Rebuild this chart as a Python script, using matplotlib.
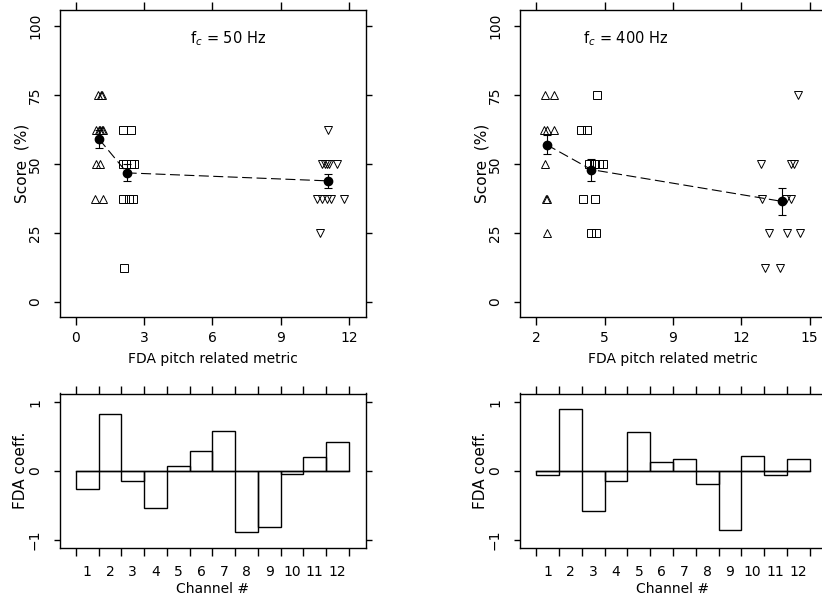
import matplotlib
matplotlib.use("Agg")
import matplotlib.pyplot as plt
import numpy as np

plt.rcParams['font.family'] = ['DejaVu Sans']
plt.rcParams['font.size'] = 10

# ---------------- data ----------------
titles = ["50", "400"]

# fc = 50 Hz panel
tri50_x = [0.97, 1.10, 1.16, 0.88, 1.00, 1.05, 1.14, 1.19, 0.90, 1.06, 0.84, 1.19]
tri50_y = [75, 75, 75, 62.5, 62.5, 62.5, 62.5, 62.5, 50, 50, 37.5, 37.5]
sq50_x = [2.09, 2.40, 2.07, 2.20, 2.42, 2.55, 2.07, 2.33, 2.50, 2.11]
sq50_y = [62.5, 62.5, 50, 50, 50, 50, 37.5, 37.5, 37.5, 12.5]
dt50_x = [11.09, 10.80, 10.95, 11.05, 11.13, 11.46, 10.60, 10.80, 11.05, 11.20, 11.78, 10.72]
dt50_y = [62.5, 50, 50, 50, 50, 50, 37.5, 37.5, 37.5, 37.5, 37.5, 25]
mean50_x = [1.02, 2.25, 11.10]
mean50_y = [59.0, 46.8, 43.9]
se50 = [3.2, 3.1, 2.65]

# fc = 400 Hz panel
tri400_x = [3.36, 3.77, 3.34, 3.47, 3.77, 3.37, 3.40, 3.47, 3.47]
tri400_y = [75, 75, 62.5, 62.5, 62.5, 50, 37.5, 37.5, 25]
sq400_x = [5.68, 4.94, 5.22, 5.33, 5.53, 5.73, 5.92, 5.06, 5.57, 5.38, 5.60]
sq400_y = [75, 62.5, 62.5, 50, 50, 50, 50, 37.5, 37.5, 25, 25]
dt400_x = [14.48, 12.85, 14.17, 14.31, 12.92, 13.96, 14.17, 13.23, 13.99, 14.59, 13.03, 13.69]
dt400_y = [75, 50, 50, 50, 37.5, 37.5, 37.5, 25, 25, 25, 12.5, 12.5]
mean400_x = [3.45, 5.41, 13.77]
mean400_y = [57.0, 48.0, 36.5]
se400 = [3.5, 4.0, 5.0]

# FDA coefficients per channel
channels = list(range(1, 13))
coef50 = [-0.265, 0.824, -0.149, -0.535, 0.067, 0.284, 0.583, -0.886, -0.814, -0.043, 0.207, 0.419]
coef400 = [-0.06, 0.899, -0.58, -0.145, 0.56, 0.126, 0.174, -0.184, -0.86, 0.222, -0.053, 0.174]

score_ticks = [0, 25, 50, 75, 100]
x50_ticks = [0, 3, 6, 9, 12]
x50_labels = ["0", "3", "6", "9", "12"]
x400_ticks = [3, 6, 9, 12, 15]
x400_labels = ["2", "5", "9", "12", "15"]
coef_ticks = [-1, 0, 1]
coef_labels = ["\u22121", "0", "1"]

# ---------------- figure ----------------
W, H = 822, 601
fig = plt.figure(figsize=(W / 100, H / 100), dpi=100)

def fx(px):
    return px / W

def fy(py):
    return 1 - py / H

top_b, top_t = 317, 10
bot_b, bot_t = 548, 393.5
axw = 306 / W

ax_tl = fig.add_axes([fx(60), fy(top_b), axw, (top_b - top_t) / H])
ax_tr = fig.add_axes([fx(520), fy(top_b), axw, (top_b - top_t) / H])
ax_bl = fig.add_axes([fx(60), fy(bot_b), axw, (bot_b - bot_t) / H])
ax_br = fig.add_axes([fx(520), fy(bot_b), axw, (bot_b - bot_t) / H])

lw = 1.0

def style(ax):
    for s in ax.spines.values():
        s.set_linewidth(lw)
    ax.tick_params(which='major', direction='out', width=lw, color='black',
                   top=True, right=True, labeltop=False, labelright=False)
    ax.tick_params(axis='x', which='major', length=6, pad=4)
    ax.tick_params(axis='y', which='major', length=4.5, pad=8.5)
    for lab in ax.get_yticklabels():
        lab.set_rotation(90)
        lab.set_va('center')

mk = dict(linestyle='none', markerfacecolor='none', markeredgecolor='black', markeredgewidth=0.7)

def scatter_panel(ax, tx, ty, sx, sy, dx, dy, mx, my, se, xlim, xticks, xlabels, fc, tx0):
    ax.plot(tx, ty, marker='^', markersize=6, **mk)
    ax.plot(sx, sy, marker='s', markersize=5.3, **mk)
    ax.plot(dx, dy, marker='v', markersize=6, **mk)
    ax.plot(mx, my, color='black', lw=0.8, dashes=(9, 4))
    ax.errorbar(mx, my, yerr=se, fmt='o', color='black', markersize=6,
                elinewidth=0.8, capsize=3, capthick=0.8)
    ax.set_xlim(*xlim)
    ax.set_ylim(-5.4, 105.8)
    ax.set_yticks(score_ticks)
    ax.set_yticklabels([str(t) for t in score_ticks])
    ax.set_xticks(xticks)
    ax.set_xticklabels(xlabels)
    ax.set_ylabel("Score  (%)", fontsize=11)
    ax.yaxis.set_label_coords(-0.101, 0.5)
    ax.set_xlabel("FDA pitch related metric", labelpad=5)
    ax.text(tx0, 93.8, "f$_c$ = " + fc + " Hz", ha='left', va='baseline', fontsize=10.5)
    style(ax)

scatter_panel(ax_tl, tri50_x, tri50_y, sq50_x, sq50_y, dt50_x, dt50_y,
              mean50_x, mean50_y, se50, (-0.70, 12.75), x50_ticks, x50_labels, titles[0], 5.0)
scatter_panel(ax_tr, tri400_x, tri400_y, sq400_x, sq400_y, dt400_x, dt400_y,
              mean400_x, mean400_y, se400, (2.28, 15.72), x400_ticks, x400_labels, titles[1], 5.05)

def bar_panel(ax, coefs, x0, xlim):
    n = len(coefs)
    edges = np.arange(n + 1) + x0
    centers = edges[:-1] + 0.5
    ax.bar(centers, coefs, width=1.0, fill=False, edgecolor='black', linewidth=lw)
    ax.plot([edges[0], edges[-1]], [0, 0], color='black', lw=lw)
    ax.set_xlim(*xlim)
    ax.set_ylim(-1.12, 1.125)
    ax.set_xticks(edges)
    ax.set_xticklabels([])
    ax.set_xticks(centers, minor=True)
    ax.set_xticklabels([str(c) for c in channels], minor=True)
    ax.tick_params(axis='x', which='minor', length=0, pad=12.5, top=False)
    ax.set_yticks(coef_ticks)
    ax.set_yticklabels(coef_labels)
    ax.set_ylabel("FDA coeff.", fontsize=11)
    ax.yaxis.set_label_coords(-0.105, 0.5)
    ax.set_xlabel("Channel #", labelpad=2)
    style(ax)

bar_panel(ax_bl, coef50, 0, (-0.70, 12.75))
bar_panel(ax_br, coef400, 3, (2.28, 15.72))

fig.savefig("out.png", dpi=100)
